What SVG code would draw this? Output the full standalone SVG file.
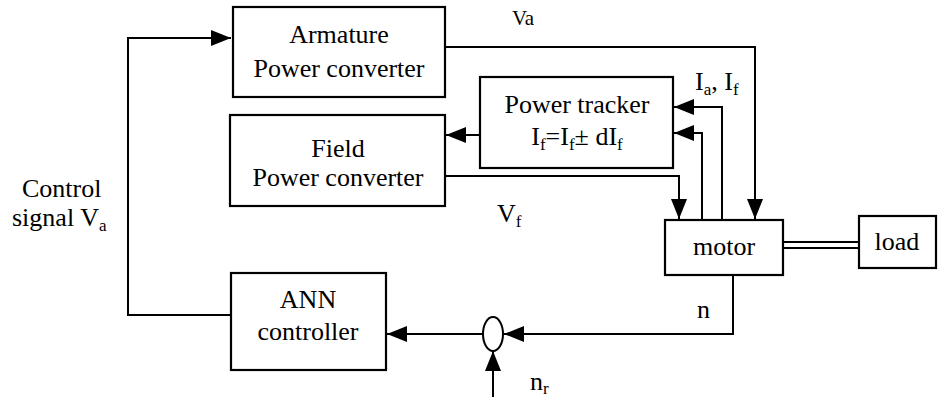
<svg xmlns="http://www.w3.org/2000/svg" width="938" height="397" viewBox="0 0 938 397">
<style>
.box{fill:#fff;stroke:#000;stroke-width:2.2}
.ln{fill:none;stroke:#000;stroke-width:2}
text{font-family:'Liberation Serif','Times New Roman','DejaVu Serif',serif;font-size:26px;fill:#000}
.s{font-size:17px}
</style>
<defs>
<marker id="ar" markerUnits="userSpaceOnUse" markerWidth="21" markerHeight="18" refX="20" refY="9" orient="auto">
<path d="M0,1 L20,9 L0,17 Z" fill="#000"/>
</marker>
</defs>
<g id="connectors">
<polyline class="ln" points="232,315 128,315 128,38 231,38" marker-end="url(#ar)"/>
<polyline class="ln" points="445,47 755,47 755,219" marker-end="url(#ar)"/>
<polyline class="ln" points="445,176 679,176 679,219" marker-end="url(#ar)"/>
<line class="ln" x1="480" y1="135" x2="446" y2="135" marker-end="url(#ar)"/>
<polyline class="ln" points="702,220 702,133 674,133" marker-end="url(#ar)"/>
<polyline class="ln" points="722,220 722,107 674,107" marker-end="url(#ar)"/>
<polyline class="ln" points="733,275 733,334 504,334" marker-end="url(#ar)"/>
<line class="ln" x1="483" y1="334" x2="387" y2="334" marker-end="url(#ar)"/>
<line class="ln" x1="493" y1="397" x2="493" y2="351" marker-end="url(#ar)"/>
<line class="ln" x1="783" y1="242" x2="862" y2="242"/>
<line class="ln" x1="783" y1="248" x2="862" y2="248"/>
</g>
<g id="armature">
<rect class="box" x="233" y="7" width="212" height="90"/>
<text x="339" y="43" text-anchor="middle">Armature</text>
<text x="339" y="77" text-anchor="middle">Power converter</text>
</g>
<g id="field">
<rect class="box" x="230" y="115" width="215" height="91"/>
<text x="338" y="157" text-anchor="middle">Field</text>
<text x="338" y="186" text-anchor="middle">Power converter</text>
</g>
<g id="tracker">
<rect class="box" x="480" y="77" width="193" height="91"/>
<text x="577" y="113" text-anchor="middle">Power tracker</text>
<text x="577" y="145" text-anchor="middle">I<tspan class="s" dy="5">f</tspan><tspan dy="-5">=I</tspan><tspan class="s" dy="5">f</tspan><tspan dy="-5">± dI</tspan><tspan class="s" dy="5">f</tspan></text>
</g>
<g id="motor">
<rect class="box" x="665" y="220" width="118" height="55"/>
<text x="724" y="255" text-anchor="middle">motor</text>
</g>
<g id="load">
<rect class="box" x="859" y="216" width="77" height="52"/>
<text x="897" y="250" text-anchor="middle">load</text>
</g>
<g id="ann">
<rect class="box" x="231" y="273" width="155" height="97"/>
<text x="308" y="308" text-anchor="middle">ANN</text>
<text x="308" y="340" text-anchor="middle">controller</text>
</g>
<g id="sum">
<ellipse cx="493" cy="334" rx="10" ry="17" fill="#fff" stroke="#000" stroke-width="2"/>
</g>
<g id="labels">
<text x="512" y="25" style="font-size:21px">Va</text>
<text x="695" y="90">I<tspan class="s" dy="5">a</tspan><tspan dy="-5">, I</tspan><tspan class="s" dy="5">f</tspan></text>
<text x="497" y="222">V<tspan class="s" dy="5">f</tspan></text>
<text x="22" y="197">Control</text>
<text x="12" y="226">signal V<tspan class="s" dy="5">a</tspan></text>
<text x="697" y="318">n</text>
<text x="530" y="390">n<tspan class="s" dy="4">r</tspan></text>
</g>
</svg>
